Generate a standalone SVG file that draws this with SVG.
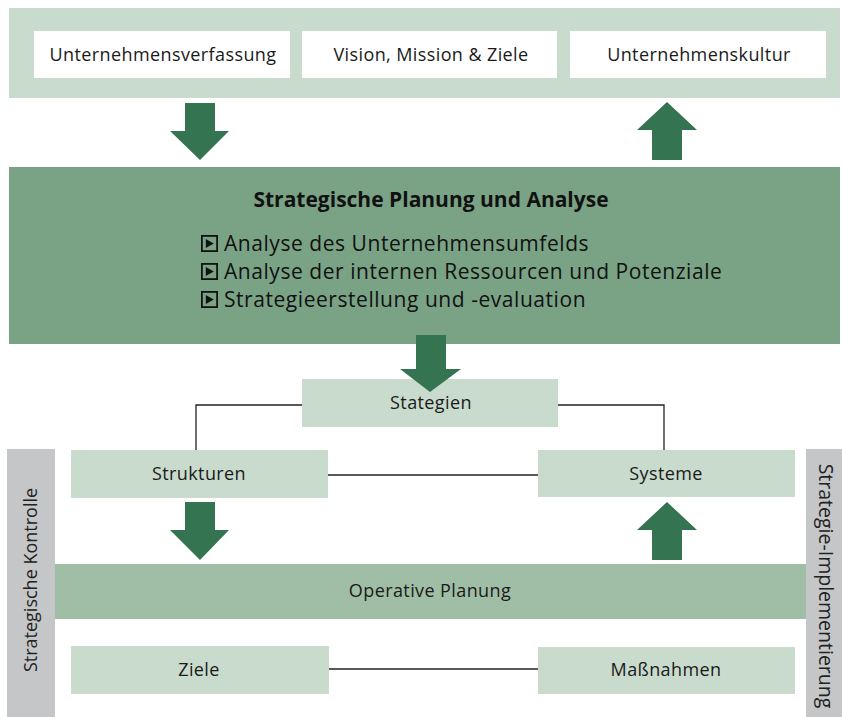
<svg xmlns="http://www.w3.org/2000/svg" width="842" height="717" viewBox="0 0 842 717">
<style>
.band{fill:#c9dbcd}
.white{fill:#ffffff}
.light{fill:#c9dbcd}
.main{fill:#7aa386}
.op{fill:#a0bea6}
.gray{fill:#c5c6c8}
.arrow{fill:#357450}
.lbl{font-family:"Open Sans","Noto Sans",sans-serif;font-size:18px;letter-spacing:0.4px;fill:#1a1a1a;text-anchor:middle}
.bul{font-family:"Open Sans","Noto Sans",sans-serif;font-size:21px;letter-spacing:0.55px;fill:#111}
.vt{font-family:"Open Sans","Noto Sans",sans-serif;font-size:18px;fill:#222;text-anchor:middle}
.conn{stroke:#222;stroke-width:1.3;fill:none}
</style>
<defs>
<g id="bicon"><rect x="0.9" y="0.9" width="15.2" height="15.2" fill="none" stroke="#111" stroke-width="1.8"/><polygon points="4.8,4 4.8,13 12.8,8.5" fill="#111"/></g>
</defs>
<g id="top-band"><rect class="band" x="9" y="8" width="831" height="90"/></g>
<g id="unternehmensverfassung"><rect class="white" x="34" y="31" width="256" height="47"/><text class="lbl" x="163" y="61">Unternehmensverfassung</text></g>
<g id="vision"><rect class="white" x="302" y="31" width="255" height="47"/><text class="lbl" x="431" y="61">Vision, Mission &amp; Ziele</text></g>
<g id="unternehmenskultur"><rect class="white" x="570" y="31" width="256" height="47"/><text class="lbl" x="699" y="61">Unternehmenskultur</text></g>
<g id="strategische-planung">
<rect class="main" x="9" y="167" width="831" height="177"/>
<text x="431" y="207" font-family="'Open Sans','Noto Sans',sans-serif" font-size="21" font-weight="bold" fill="#111" text-anchor="middle">Strategische Planung und Analyse</text>
<use href="#bicon" x="201" y="235"/><text class="bul" x="224" y="251">Analyse des Unternehmensumfelds</text>
<use href="#bicon" x="201" y="263"/><text class="bul" x="224" y="279">Analyse der internen Ressourcen und Potenziale</text>
<use href="#bicon" x="201" y="291"/><text class="bul" x="224" y="307">Strategieerstellung und -evaluation</text>
</g>
<g id="strategische-kontrolle"><rect class="gray" x="7" y="449" width="48" height="268"/><text class="vt" transform="translate(37,580) rotate(-90)">Strategische Kontrolle</text></g>
<g id="strategie-implementierung"><rect class="gray" x="806" y="449" width="36" height="268"/><text class="vt" style="font-size:19.5px" transform="translate(819,586) rotate(90)">Strategie-Implementierung</text></g>
<g id="stategien"><rect class="light" x="302" y="379" width="256" height="48"/><text class="lbl" x="431" y="409">Stategien</text></g>
<g id="strukturen"><rect class="light" x="71" y="450" width="257" height="48"/><text class="lbl" x="199" y="480">Strukturen</text></g>
<g id="systeme"><rect class="light" x="538" y="450" width="257" height="47"/><text class="lbl" x="666" y="480">Systeme</text></g>
<g id="operative-planung"><rect class="op" x="55" y="564" width="751" height="55"/><text class="lbl" x="430" y="597">Operative Planung</text></g>
<g id="ziele"><rect class="light" x="71" y="646" width="258" height="48"/><text class="lbl" x="199" y="676">Ziele</text></g>
<g id="massnahmen"><rect class="light" x="538" y="647" width="257" height="47"/><text class="lbl" x="666" y="676">Maßnahmen</text></g>
<g id="connectors">
<polyline class="conn" points="302,405 196,405 196,450"/>
<polyline class="conn" points="558,405 664,405 664,450"/>
<line class="conn" x1="328" y1="475" x2="538" y2="475"/>
<line class="conn" x1="329" y1="669" x2="538" y2="669"/>
<polygon class="arrow" points="185,103 215,103 215,131 229,131 200,160 170,131 185,131"/>
<polygon class="arrow" points="667,102 697,130 682,130 682,160 652,160 652,130 637,130"/>
<polygon class="arrow" points="416,335 446,335 446,369 461,369 430,392 400,369 416,369"/>
<polygon class="arrow" points="185,502 215,502 215,530 229,530 200,560 170,530 185,530"/>
<polygon class="arrow" points="667,502 697,530 682,530 682,560 652,560 652,530 637,530"/>
</g>
</svg>
